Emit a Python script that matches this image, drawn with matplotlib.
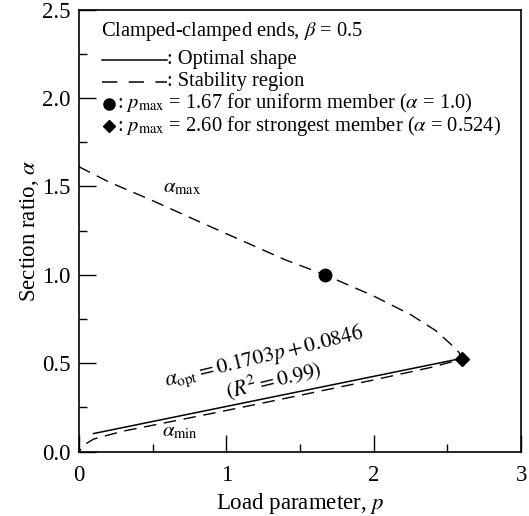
import matplotlib
matplotlib.use("Agg")
import matplotlib.pyplot as plt
import numpy as np

plt.rcParams['font.family'] = ['Liberation Serif', 'DejaVu Serif']
plt.rcParams['mathtext.fontset'] = 'stix'

# stability region: upper branch (alpha_max) then back along lower branch (alpha_min)
p_upper = [0.0, 0.2, 0.5, 0.8, 1.1, 1.4, 1.67, 2.0, 2.25, 2.42, 2.52, 2.58, 2.60]
a_upper = [1.612, 1.527, 1.42, 1.307, 1.196, 1.085, 1.0, 0.88, 0.775, 0.685, 0.61, 0.56, 0.524]
p_lower = [2.60, 2.4, 2.0, 1.5, 1.0, 0.6, 0.3, 0.15, 0.1, 0.05, 0.0]
a_lower = [0.524, 0.478, 0.405, 0.318, 0.232, 0.165, 0.115, 0.082, 0.07, 0.045, 0.0]

# optimal shape fit
slope, intercept = 0.1703, 0.0846
p_opt = [0.1, 2.6]

# special points
p_uniform, a_uniform = 1.67, 1.0
p_strong, a_strong = 2.60, 0.524

fig = plt.figure(figsize=(5.29, 5.16), dpi=100)
ax = fig.add_axes([0.149, 0.125, 0.836, 0.856])

ax.plot(p_upper + p_lower, a_upper + a_lower, color='k', lw=1.0, dashes=(9, 5.5))
ax.plot(p_opt, [slope * p + intercept for p in p_opt], color='k', lw=1.1)
ax.plot(p_uniform, a_uniform, 'o', color='k', ms=9)
ax.plot(p_strong, a_strong, 'D', color='k', ms=7.5)

ax.text(0.57, 1.49, r'$\alpha_{\rm max}$', fontsize=15, va='center', ha='left')
ax.text(0.565, 0.113, r'$\alpha_{\rm min}$', fontsize=15, va='center', ha='left')
ax.text(1.256, 0.535, r'$\alpha_{\rm opt} = 0.1703p + 0.0846$', fontsize=15.5,
        rotation=13.7, ha='center', va='center', rotation_mode='anchor')
ax.text(1.32, 0.405, r'$(R^2 = 0.99)$', fontsize=15.5,
        rotation=13.7, ha='center', va='center', rotation_mode='anchor')

# legend block drawn by hand
fs = 14.8
ax.text(0.051, 0.951, r'Clamped-clamped ends, $\beta$ = 0.5', transform=ax.transAxes,
        fontsize=fs, va='center')
ax.plot([0.052, 0.199], [0.887, 0.887], color='k', lw=1.1, transform=ax.transAxes)
ax.text(0.2, 0.887, ': Optimal shape', transform=ax.transAxes, fontsize=fs, va='center')
ax.plot([0.052, 0.199], [0.837, 0.837], color='k', lw=1.1, dashes=(10, 7.5),
        transform=ax.transAxes)
ax.text(0.2, 0.837, ': Stability region', transform=ax.transAxes, fontsize=fs, va='center')
ax.plot(0.068, 0.787, 'o', color='k', ms=8, transform=ax.transAxes)
ax.text(0.086, 0.787, r': $p_{\rm max}$ = 1.67 for uniform member ($\alpha$ = 1.0)',
        transform=ax.transAxes, fontsize=fs, va='center')
ax.plot(0.068, 0.737, 'D', color='k', ms=6.5, transform=ax.transAxes)
ax.text(0.086, 0.737, r': $p_{\rm max}$ = 2.60 for strongest member ($\alpha$ = 0.524)',
        transform=ax.transAxes, fontsize=fs, va='center')

ax.set_xlim(0, 3)
ax.set_ylim(0, 2.5)
ax.set_xticks([0, 1, 2, 3])
ax.set_xticks([0.5, 1.5, 2.5], minor=True)
ax.set_yticks(np.arange(0, 2.51, 0.5))
ax.set_yticks([0.25, 0.75, 1.25, 1.75, 2.25], minor=True)
ax.set_yticklabels(['0.0', '0.5', '1.0', '1.5', '2.0', '2.5'])
ax.tick_params(which='major', direction='in', length=12, width=1, labelsize=16.5, pad=6)
ax.tick_params(which='minor', direction='in', length=6, width=1)
ax.tick_params(axis='x', pad=10)
for s in ax.spines.values():
    s.set_linewidth(1.2)

ax.set_xlabel('Load parameter, $p$', fontsize=16.5, labelpad=3)
ax.set_ylabel(r'Section ratio, $\alpha$', fontsize=16.5, labelpad=1)

fig.savefig('out.png', dpi=100)
